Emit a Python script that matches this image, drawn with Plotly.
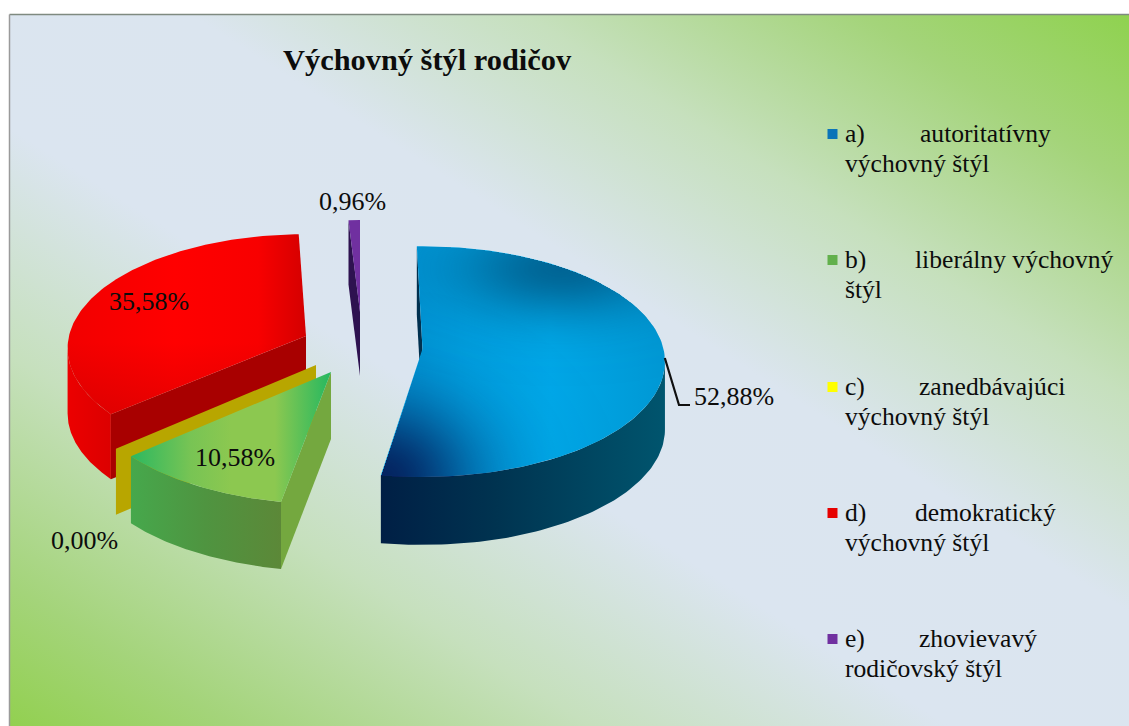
import base64
import numpy as np
import plotly.graph_objects as go

# ---- data ----
categories = ["a) autoritatívny výchovný štýl", "b) liberálny výchovný štýl",
              "c) zanedbávajúci výchovný štýl", "d) demokratický výchovný štýl",
              "e) zhovievavý rodičovský štýl"]
values = [52.88, 10.58, 0.00, 35.58, 0.96]
value_labels = ["52,88%", "10,58%", "0,00%", "35,58%", "0,96%"]
title_text = "Výchovný štýl rodičov"
legend_key = ["a)", "b)", "c)", "d)", "e)"]
legend_word = ["autoritatívny", "liberálny výchovný", "zanedbávajúci", "demokratický", "zhovievavý"]
legend_second = ["výchovný štýl", "štýl", "výchovný štýl", "výchovný štýl", "rodičovský štýl"]
legend_colors = ["#0a74b8", "#62b04c", "#ffff00", "#e60000", "#7030a0"]

# ---- layout of the exploded, tilted pie (pixel space) ----
W, H = 1129, 726
KP = 0.109  # perspective strength
geom = [
    dict(ax=422.5, ay=349, rx=241, ry=114, rot=-1.5, depth=68),
    dict(ax=331, ay=372, rx=248, ry=118, rot=0, depth=67),
    dict(ax=316, ay=365, rx=248, ry=117, rot=0, depth=66),
    dict(ax=306, ay=336, rx=237, ry=113, rot=1.5, depth=65),
    dict(ax=360, ay=312, rx=212, ry=102, rot=0, depth=64),
]
cum = np.concatenate([[0], np.cumsum(values)]) * 3.6
cum[-1] = 360.0


def pt(g, deg, dz=0.0):
    t = np.radians(np.asarray(deg, dtype=float) + g["rot"])
    u, v = np.sin(t), -np.cos(t)
    s = 1 / (1 - KP * v)
    return g["ax"] + g["rx"] * u * s, g["ay"] + g["ry"] * v * s + dz


def extreme_angle(i, lo, hi, side):
    th = np.linspace(lo, hi, 721)
    x, _ = pt(geom[i], th)
    return float(th[np.argmin(x) if side == "left" else np.argmax(x)])


def top_poly(i):
    g = geom[i]
    th = np.linspace(cum[i], cum[i + 1], 120)
    x, y = pt(g, th)
    return np.r_[g["ax"], x, g["ax"]], np.r_[g["ay"], y, g["ay"]]


def radial_face(i, deg):
    g = geom[i]
    x, y = pt(g, deg)
    d = g["depth"]
    return ([g["ax"], float(x), float(x), g["ax"], g["ax"]],
            [g["ay"], float(y), float(y) + d, g["ay"] + d, g["ay"]])


def outer_wall(i, a, b):
    g = geom[i]
    th = np.linspace(a, b, 80)
    x, y = pt(g, th)
    return np.r_[x, x[::-1], x[0]], np.r_[y, y[::-1] + g["depth"], y[0]]


def hgrad(stops):
    return dict(type="horizontal", colorscale=stops)


def vgrad(stops):
    return dict(type="vertical", colorscale=stops)


fig = go.Figure()


def add(xy, color=None, grad=None):
    kw = dict(x=list(xy[0]), y=list(xy[1]), mode="lines", fill="toself",
              line=dict(width=0), showlegend=False, hoverinfo="skip")
    if grad is not None:
        kw["fillgradient"] = grad
    else:
        kw["fillcolor"] = color
    fig.add_trace(go.Scatter(**kw))


# red slice (d)
add(outer_wall(3, cum[3], extreme_angle(3, cum[3], cum[4], "left")),
    grad=hgrad([[0, "#ec0000"], [0.5, "#e40000"], [1, "#dc0000"]]))
add(radial_face(3, cum[3]), color="#a80000")
add(top_poly(3), grad=hgrad([[0, "#f20000"], [0.45, "#ff0000"], [0.8, "#f80000"], [1, "#d40000"]]))
add(top_poly(3), grad=vgrad([[0, "rgba(120,0,0,0.18)"], [0.4, "rgba(120,0,0,0)"], [1, "rgba(120,0,0,0)"]]))

# zero slice (c): only its flat face shows
add(radial_face(2, cum[2]), color="#b8a600")

# green slice (b)
add(radial_face(1, cum[1]), color="#74a83f")
add(outer_wall(1, cum[1], cum[2]), grad=hgrad([[0, "#46a84c"], [0.5, "#4f9440"], [1, "#5c8838"]]))
add(top_poly(1), grad=hgrad([[0, "#2cb860"], [0.3, "#78c454"], [0.5, "#8cc850"], [0.72, "#8cc850"], [1, "#25b860"]]))

# purple slice (e)
add(radial_face(4, cum[4]), color="#2e1250")
add(top_poly(4), color="#7030a0")

# blue slice (a)
add(radial_face(0, cum[0]), color="#00304f")
add(outer_wall(0, extreme_angle(0, cum[0], cum[1], "right"), cum[1]),
    grad=hgrad([[0, "#001f45"], [0.4, "#003350"], [1, "#00556e"]]))
add(top_poly(0), grad=hgrad([[0, "#0090d0"], [0.3, "#00a0e0"], [0.6, "#00a8e8"], [1, "#0098d4"]]))

# soft shading over the blue top, masked to the slice
g0 = geom[0]
gx = np.arange(372, 672, 1.0)
gy = np.arange(240, 482, 1.0)
XX, YY = np.meshgrid(gx, gy)
Xn, Yn = (XX - g0["ax"]) / g0["rx"], (YY - g0["ay"]) / g0["ry"]
vv = Yn / (1 + KP * Yn)
uu = Xn * (1 - KP * vv)
rr = np.hypot(uu, vv)
tt = (np.degrees(np.arctan2(uu, -vv)) - g0["rot"]) % 360
mask = (rr <= 1.0) & (tt <= cum[1])
shade_ll = 0.95 * np.exp(-((XX - 378) / 95) ** 2 - ((YY - 478) / 75) ** 2)
shade_ur = 0.62 * np.exp(-((XX - 560) / 105) ** 2 - ((YY - 268) / 48) ** 2)
for shade, rgb in ((shade_ur, "0,62,100"), (shade_ll, "4,30,90")):
    z = np.round(np.where(mask, shade, np.nan), 3)
    fig.add_trace(go.Heatmap(x=gx, y=gy, z=z, zmin=0, zmax=1, showscale=False, hoverinfo="skip",
                             colorscale=[[0, f"rgba({rgb},0)"], [1, f"rgba({rgb},1)"]],
                             xaxis="x2", yaxis="y2"))

# leader line for the largest slice
lx, ly = pt(geom[0], 96)
fig.add_trace(go.Scatter(x=[float(lx), 679, 690], y=[float(ly), 405, 405], mode="lines",
                         line=dict(color="#101010", width=2.2), showlegend=False, hoverinfo="skip"))

# legend swatches
legend_y = [134, 260, 387, 513, 639]
fig.add_trace(go.Scatter(x=[832.5] * 5, y=legend_y, mode="markers", showlegend=False, hoverinfo="skip",
                         marker=dict(symbol="square", size=10, color=legend_colors, line=dict(width=0))))

SERIF = "Liberation Serif"
ann = []


def text(x, y, s, size=25.6, anchor="left", bold=False):
    ann.append(dict(x=x, y=y, xref="x", yref="y", text=f"<b>{s}</b>" if bold else s, showarrow=False,
                    xanchor=anchor, yanchor="middle",
                    font=dict(family=SERIF, size=size, color="#0c0c0c")))


text(427.5, 60, title_text, size=30.4, anchor="center", bold=True)
label_pos = [(733.5, 396), (235, 457), (84, 540), (149, 301), (352, 201)]
for (x, y), s in zip(label_pos, value_labels):
    text(x, y, s, size=26, anchor="center")
word_x = [918, 913, 917, 913, 917]
for i in range(5):
    text(843, legend_y[i] - 1, legend_key[i])
    text(word_x[i], legend_y[i] - 1, legend_word[i])
    text(843, legend_y[i] + 29, legend_second[i])

svg = f"""<svg xmlns='http://www.w3.org/2000/svg' width='{W-10}' height='{H-14}'>
<defs><linearGradient id='g' x1='1' y1='0' x2='0' y2='1'>
<stop offset='0' stop-color='#8fd24f'/><stop offset='0.12' stop-color='#a4d47a'/>
<stop offset='0.27' stop-color='#c6e0bd'/><stop offset='0.42' stop-color='#dbe5ef'/>
<stop offset='0.58' stop-color='#dbe5f0'/><stop offset='0.74' stop-color='#c6e0bd'/>
<stop offset='0.9' stop-color='#a4d47a'/><stop offset='1' stop-color='#92d050'/>
</linearGradient></defs><rect width='100%' height='100%' fill='url(#g)'/></svg>"""
bg = "data:image/svg+xml;base64," + base64.b64encode(svg.encode()).decode()

fig.update_layout(
    width=W, height=H, margin=dict(l=0, r=0, t=0, b=0),
    paper_bgcolor="white", plot_bgcolor="rgba(0,0,0,0)",
    xaxis=dict(range=[0, W], visible=False, fixedrange=True),
    yaxis=dict(range=[H, 0], visible=False, fixedrange=True),
    xaxis2=dict(range=[0, W], visible=False, fixedrange=True, overlaying="x"),
    yaxis2=dict(range=[H, 0], visible=False, fixedrange=True, overlaying="y"),
    annotations=ann,
    images=[dict(source=bg, xref="x", yref="y", x=10, y=14, sizex=W - 10, sizey=H - 14,
                 xanchor="left", yanchor="top", sizing="stretch", layer="below")],
    shapes=[
        dict(type="line", xref="x", yref="y", x0=9.5, x1=W, y0=14.5, y1=14.5, line=dict(color="#7f8a80", width=1.5), layer="above"),
        dict(type="line", xref="x", yref="y", x0=9.5, x1=9.5, y0=14.5, y1=H, line=dict(color="#9a9a9a", width=1.5), layer="above"),
    ],
)
fig.write_html("out.html", config=dict(displayModeBar=False),
               post_script="document.body.style.margin='0';document.body.style.overflow='hidden';")
